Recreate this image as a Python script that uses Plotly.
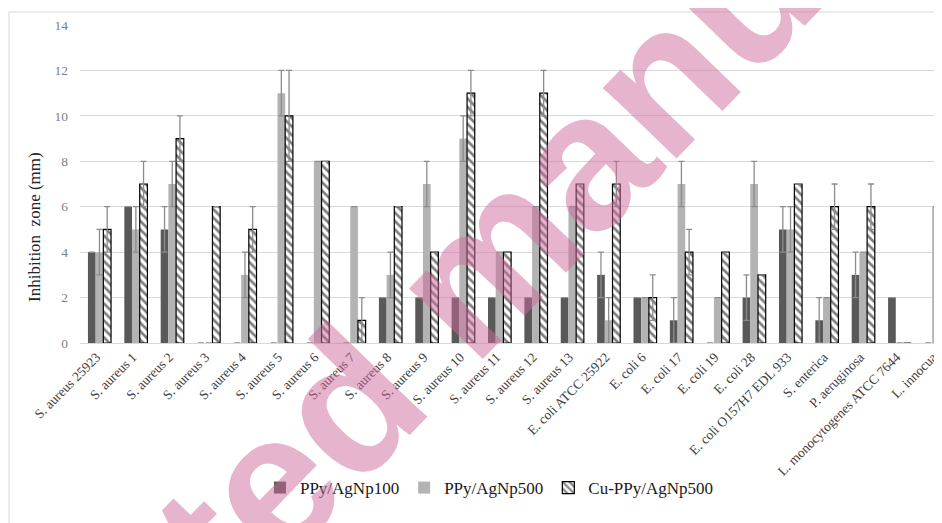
import plotly.graph_objects as go

categories = [
    "S. aureus 25923", "S. aureus 1", "S. aureus 2", "S. aureus 3", "S. aureus 4",
    "S. aureus 5", "S. aureus 6", "S. aureus 7", "S. aureus 8", "S. aureus 9",
    "S. aureus 10", "S. aureus 11", "S. aureus 12", "S. aureus 13",
    "E. coli ATCC 25922", "E. coli 6", "E. coli 17", "E. coli 19", "E. coli 28",
    "E. coli O157H7 EDL 933", "S. enterica", "P. aeruginosa",
    "L. monocytogenes ATCC 7644", "L. innocua",
]

ppy100 = [4, 6, 5, 0, 0, 0, 0, 0, 2, 2, 2, 2, 2, 2, 3, 2, 1, 0, 2, 5, 1, 3, 2, 0]
ppy100_err = [0, 0, 1, 0, 0, 0, 0, 0, 0, 0, 0, 0, 0, 0, 1, 0, 1, 0, 1, 1, 1, 1, 0, 0]

ppy500 = [4, 5, 7, 0, 3, 11, 8, 6, 3, 7, 9, 4, 6, 6, 1, 2, 7, 2, 7, 5, 2, 4, 0, 6]
ppy500_err = [1, 1, 1, 0, 1, 1, 0, 0, 1, 1, 1, 0, 0, 0, 1, 0, 1, 0, 1, 1, 0, 0, 0, 0]

cu500 = [5, 7, 9, 6, 5, 10, 8, 1, 6, 4, 11, 4, 11, 7, 7, 2, 4, 4, 3, 7, 6, 6, 0, 9]
cu500_err = [1, 1, 1, 0, 1, 2, 0, 1, 0, 0, 1, 0, 1, 0, 1, 1, 1, 0, 0, 0, 1, 1, 0, 1]

y_ticks = [0, 2, 4, 6, 8, 10, 12, 14]

y_title = "Inhibition\u00a0 zone (mm)"
watermark = "Accepted manuscript"

SERIF = "Liberation Serif, Times New Roman, serif"
ERR_COLOR = "#8c8c8c"


def err(a):
    return [v if v else None for v in a]


fig = go.Figure()
fig.add_trace(go.Bar(
    name="PPy/AgNp100", x=categories, y=ppy100,
    marker=dict(color="#595959", line=dict(width=0)),
    error_y=dict(type="data", array=err(ppy100_err), color=ERR_COLOR, thickness=1.3, width=3),
))
fig.add_trace(go.Bar(
    name="PPy/AgNp500", x=categories, y=ppy500,
    marker=dict(color="#b3b3b3", line=dict(width=0)),
    error_y=dict(type="data", array=err(ppy500_err), color=ERR_COLOR, thickness=1.3, width=3),
))
fig.add_trace(go.Bar(
    name="Cu-PPy/AgNp500", x=categories, y=cu500,
    marker=dict(color="white", line=dict(color="black", width=1.2),
                pattern=dict(shape="\\", fgcolor="black", bgcolor="white", size=6, solidity=0.45)),
    error_y=dict(type="data", array=err(cu500_err), color=ERR_COLOR, thickness=1.3, width=3),
))

fig.update_layout(
    width=942, height=523,
    margin=dict(l=72, r=8, t=17, b=188, autoexpand=False),
    paper_bgcolor="white", plot_bgcolor="white",
    barmode="group", bargap=0.365, bargroupgap=0,
    font=dict(family=SERIF, color="#262626"),
    showlegend=True,
    legend=dict(orientation="h", x=0.475, xanchor="center", y=-0.456, yanchor="middle",
                font=dict(family=SERIF, size=17, color="#1a1a1a"),
                itemwidth=30, bgcolor="rgba(0,0,0,0)"),
    xaxis=dict(
        range=[-0.536, 23.165], tickangle=-45, showgrid=False, automargin=False,
        showline=True, linecolor="#d9d9d9", linewidth=1, ticks="", ticklabelshift=-3,
        tickfont=dict(family=SERIF, size=13.5, color="#404040"),
    ),
    yaxis=dict(
        range=[0, 14], tickvals=y_ticks, showgrid=True, gridcolor="#d9d9d9", gridwidth=1,
        zeroline=False, showline=False, ticks="", ticklabelstandoff=11, automargin=False,
        tickfont=dict(family=SERIF, size=13.5, color="#7f7f7f"),
    ),
    shapes=[dict(type="rect", xref="paper", yref="paper",
                 x0=-0.0824, x1=1.2, y0=-0.7, y1=1.041,
                 line=dict(color="#d9d9d9", width=1), fillcolor="rgba(0,0,0,0)", layer="below")],
    annotations=[
        dict(text=y_title, xref="paper", yref="paper", x=-0.0522, y=0.365,
             xanchor="center", yanchor="middle", textangle=-90, showarrow=False,
             font=dict(family=SERIF, size=17, color="#262626")),
        dict(text="<b>" + watermark + "</b>", xref="paper", yref="paper",
             x=0.448, y=0.198, xanchor="center", yanchor="middle",
             textangle=-46, showarrow=False,
             font=dict(family="Liberation Sans, Arial, sans-serif", size=193,
                       color="rgba(205,105,155,0.5)")),
    ],
)

fig.write_html("out.html")
